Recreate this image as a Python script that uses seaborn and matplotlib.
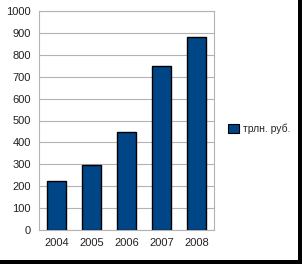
import numpy as np
import seaborn as sns
import matplotlib.pyplot as plt
from matplotlib.patches import Patch, Rectangle

years = ['2004', '2005', '2006', '2007', '2008']
values = [222, 296, 446, 749, 881]
series_label = 'трлн. руб.'
y_ticks = list(range(0, 1001, 100))

bar_color = '#004586'
grid_color = '#b3b3b3'

sns.set_theme(style='white')
plt.rcParams['font.family'] = ['Liberation Sans', 'DejaVu Sans']

fig = plt.figure(figsize=(3.02, 2.64), dpi=100)
ax = fig.add_axes([39 / 302, 1 - 230 / 264, 175 / 302, 219 / 264])

sns.barplot(x=years, y=values, color=bar_color, edgecolor='black',
            linewidth=1.0, width=0.53, saturation=1, ax=ax)

ax.set_xlim(-0.5, 4.5)
ax.set_ylim(0, 1000)
ax.set_yticks(y_ticks)
ax.set_yticklabels([str(t) for t in y_ticks], fontsize=8, color='#222222')
ax.set_xticks(range(len(years)))
ax.set_xticklabels(years, fontsize=8, color='#222222')
ax.set_xticks(np.arange(-0.5, 5, 1), minor=True)
ax.tick_params(axis='x', which='major', length=0, pad=6)
ax.tick_params(axis='x', which='minor', length=4, width=0.8, color=grid_color)
ax.tick_params(axis='y', length=4, width=0.8, color=grid_color, pad=2)

ax.yaxis.grid(True, color=grid_color, linewidth=0.8)
ax.set_axisbelow(True)
for side in ['left', 'bottom', 'right', 'top']:
    ax.spines[side].set_color(grid_color)
    ax.spines[side].set_linewidth(0.8)
ax.set_xlabel('')
ax.set_ylabel('')

handle = Patch(facecolor=bar_color, edgecolor='black', linewidth=0.8)
fig.legend([handle], [series_label], loc='center left',
           bbox_to_anchor=(224 / 302, 1 - 129 / 264), frameon=False,
           fontsize=7.5, handlelength=1.0, handleheight=1.0,
           handletextpad=0.4, borderaxespad=0)

# dark frame on right and bottom edges
fig.patches.append(Rectangle((298 / 302, 0), 4 / 302, 1, transform=fig.transFigure,
                             facecolor='black', edgecolor='none'))
fig.patches.append(Rectangle((0, 0), 1, 4 / 264, transform=fig.transFigure,
                             facecolor='black', edgecolor='none'))

fig.savefig('out.png', dpi=100)
